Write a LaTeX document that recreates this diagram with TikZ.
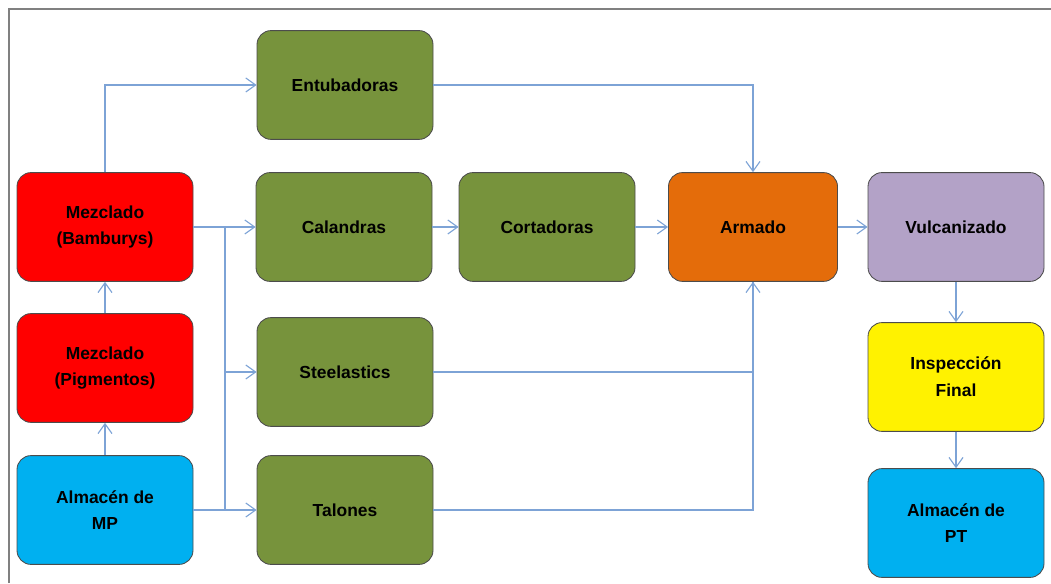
\documentclass[tikz,border=0pt]{standalone}
\usepackage{fontspec}
\setmainfont{Liberation Sans}
\usepackage{tikz}
\usetikzlibrary{arrows.meta}

\definecolor{lineblue}{RGB}{125,163,214}
\definecolor{boxgreen}{RGB}{119,147,60}
\definecolor{boxorange}{RGB}{228,108,10}
\definecolor{boxlilac}{RGB}{179,162,199}
\definecolor{boxcyan}{RGB}{0,176,240}

\begin{document}
\begin{tikzpicture}
		\useasboundingbox (0,0) rectangle (26.275,14.575);
		\draw [line width=1.5pt, gray] (0.225,0) -- (0.225,14.35) -- (26.275,14.35);
		
		\begin{scope}[every node/.style={rectangle,draw=black!70,line width=0.6pt,rounded corners=0.35cm,align=center,
				minimum width=4.4cm, minimum height=2.72cm,font=\bfseries\fontsize{12.4}{19}\selectfont}]
			\node[fill=red] (MB) at (2.625,8.9) {Mezclado\\(Bamburys)};
			\node[fill=red] (MPg) at (2.625,5.375) {Mezclado\\(Pigmentos)};
			\node[fill=boxcyan] (AMP) at (2.625,1.825) {Almacén de\\MP};
			\node[fill=boxgreen] (EN) at (8.625,12.45) {Entubadoras};
			\node[fill=boxgreen] (CA) at (8.6,8.9) {Calandras};
			\node[fill=boxgreen] (ST) at (8.625,5.275) {Steelastics};
			\node[fill=boxgreen] (TA) at (8.625,1.825) {Talones};
			\node[fill=boxgreen] (CO) at (13.675,8.9) {Cortadoras};
			\node[fill=boxorange, minimum width=4.225cm] (AR) at (18.825,8.9) {Armado};
			\node[fill=boxlilac] (VU) at (23.9,8.9) {Vulcanizado};
			\node[fill=yellow] (IF) at (23.9,5.15) {Inspección\\Final};
			\node[fill=boxcyan] (APT) at (23.9,1.5) {Almacén de\\PT};
		\end{scope}
		
		\coordinate (B) at (5.625,0);
		
		\tikzstyle{line} = [line width=0.8pt,color=lineblue]
		\tikzstyle{arrow} = [line width=0.8pt,->,>={Straight Barb[length=7pt,width=10pt]},color=lineblue]
		
		\draw [arrow] (AMP) -- (MPg);
		\draw [arrow] (MPg) -- (MB);
		\draw [arrow] (MB.north) |- (EN.west);
		\draw [arrow] (MB.east) -- (CA.west);
		\draw [arrow] (AMP.east) -- (TA.west);
		\draw [line] (B|-MB.east) -- (B|-AMP.east);
		\draw [arrow] (B|-ST.west) -- (ST.west);
		
		\draw [arrow] (CA) -- (CO);
		\draw [arrow] (CO) -- (AR);
		\draw [arrow] (AR) -- (VU);
		\draw [arrow] (EN.east) -| (AR.north);
		\draw [line] (ST.east) -| (AR.south);
		\draw [arrow] (TA.east) -| (AR.south);
		
		\draw [arrow] (VU) -- (IF);
		\draw [arrow] (IF) -- (APT);
		
	\end{tikzpicture}
\end{document}
